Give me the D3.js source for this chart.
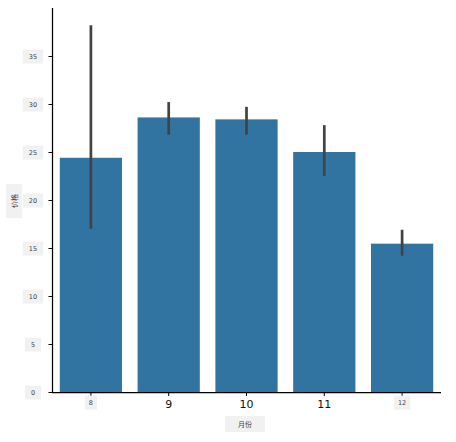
<!DOCTYPE html>
<html>
<head>
<meta charset="utf-8">
<script src="https://cdn.jsdelivr.net/npm/d3@7"></script>
<style>
  body { margin: 0; background: #fff; }
  svg { display: block; }
</style>
</head>
<body>
<svg id="chart" width="456" height="442"></svg>
<script>
// data
const months = [8, 9, 10, 11, 12];
const meanPrice = [24.4, 28.6, 28.4, 25.0, 15.45];
const ciLow = [17.0, 26.8, 26.8, 22.5, 14.2];
const ciHigh = [38.2, 30.2, 29.7, 27.8, 16.9];
const yTicks = [0, 5, 10, 15, 20, 25, 30, 35];

// the outer x tick labels come out small and boxed in the reference
const smallTicks = [8, 12];

const svg = d3.select('#chart');
const margin = { top: 8, right: 15, bottom: 50, left: 52 };
const width = 456;
const height = 442;

const x = d3.scaleBand()
  .domain(months)
  .range([margin.left, width - margin.right])
  .paddingInner(0.2)
  .paddingOuter(0.1);

const y = d3.scaleLinear()
  .domain([0, 40])
  .range([height - margin.bottom, margin.top]);

const rows = months.map((m, i) => ({ month: m, value: meanPrice[i], lo: ciLow[i], hi: ciHigh[i] }));

// bars
svg.append('g')
  .selectAll('rect')
  .data(rows)
  .join('rect')
  .attr('x', d => x(d.month))
  .attr('y', d => y(d.value))
  .attr('width', x.bandwidth())
  .attr('height', d => y(0) - y(d.value))
  .attr('fill', '#3274a1');

// error bars
svg.append('g')
  .selectAll('line')
  .data(rows)
  .join('line')
  .attr('x1', d => x(d.month) + x.bandwidth() / 2)
  .attr('x2', d => x(d.month) + x.bandwidth() / 2)
  .attr('y1', d => y(d.lo))
  .attr('y2', d => y(d.hi))
  .attr('stroke', '#424242')
  .attr('stroke-width', 2.7);

// little grey box behind a label
function boxed(g, pad) {
  g.each(function () {
    const t = d3.select(this);
    const b = this.getBBox();
    d3.select(this.parentNode).insert('rect', () => this)
      .attr('x', b.x - pad)
      .attr('y', b.y - 3)
      .attr('width', b.width + pad * 2)
      .attr('height', b.height + 6)
      .attr('transform', t.attr('transform'))
      .attr('fill', '#f1f1f1');
  });
}

// y axis
const yAxis = svg.append('g')
  .attr('transform', `translate(${margin.left},0)`)
  .call(d3.axisLeft(y).tickValues(yTicks).tickSize(3.5).tickSizeOuter(0));
yAxis.select('.domain').attr('stroke', '#000').attr('stroke-width', 1.25)
  .attr('d', `M0.5,${y(0)}V${margin.top}`);
yAxis.selectAll('.tick line').attr('stroke', '#000').attr('stroke-width', 1);
yAxis.selectAll('.tick text')
  .attr('x', -19)
  .attr('text-anchor', 'middle')
  .attr('font-family', 'DejaVu Sans, sans-serif')
  .attr('font-size', 6.5)
  .attr('fill', '#444');
boxed(yAxis.selectAll('.tick text'), 6);

// x axis
const xAxis = svg.append('g')
  .attr('transform', `translate(0,${y(0)})`)
  .call(d3.axisBottom(x).tickSize(4).tickSizeOuter(0));
xAxis.select('.domain').attr('stroke', '#000').attr('stroke-width', 1.25)
  .attr('d', `M${margin.left},0.5H${width - margin.right}`);
xAxis.selectAll('.tick line').attr('stroke', '#000').attr('stroke-width', 1);
xAxis.selectAll('.tick text')
  .attr('font-family', 'DejaVu Sans, sans-serif')
  .attr('y', 8)
  .attr('dy', '0.71em')
  .attr('font-size', d => smallTicks.includes(d) ? 6.5 : 11)
  .attr('fill', d => smallTicks.includes(d) ? '#444' : '#111');
boxed(xAxis.selectAll('.tick text').filter(d => smallTicks.includes(d)), 4);

// axis titles
const xLabel = svg.append('text')
  .attr('x', 245)
  .attr('y', 427)
  .attr('text-anchor', 'middle')
  .attr('font-family', 'Noto Sans CJK SC, sans-serif')
  .attr('font-size', 7)
  .attr('fill', '#444')
  .text('月份');
boxed(xLabel, 13);

const yLabel = svg.append('text')
  .attr('transform', 'translate(17,201) rotate(-90)')
  .attr('text-anchor', 'middle')
  .attr('font-family', 'Noto Sans CJK SC, sans-serif')
  .attr('font-size', 7)
  .attr('fill', '#444')
  .text('价格');
boxed(yLabel, 10);
</script>
</body>
</html>
